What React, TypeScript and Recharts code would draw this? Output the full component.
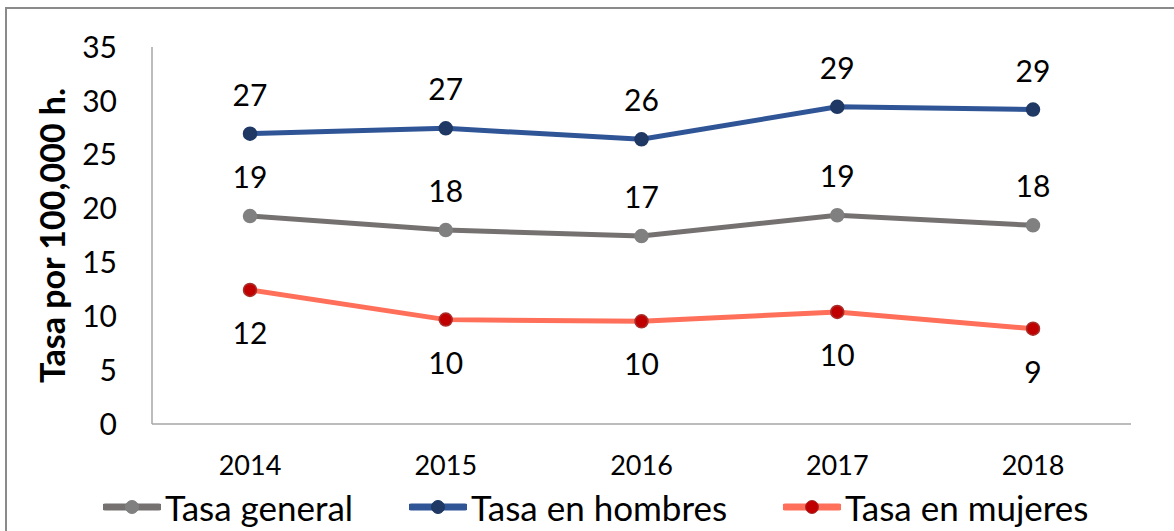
import React from 'react';
import { LineChart, Line, XAxis, YAxis, Legend, LabelList } from 'recharts';

const years = ['2014', '2015', '2016', '2017', '2018'];
const tasaGeneral = [19.31, 18.01, 17.45, 19.38, 18.45];
const tasaHombres = [26.95, 27.45, 26.43, 29.45, 29.19];
const tasaMujeres = [12.45, 9.69, 9.53, 10.4, 8.85];
const yTicks = [0, 5, 10, 15, 20, 25, 30, 35];

const FONT = 'Lato, "Open Sans", sans-serif';

const series = [
  { key: 'general', name: 'Tasa general', line: '#767171', dot: '#808080', dotStroke: '#808080', above: true },
  { key: 'hombres', name: 'Tasa en hombres', line: '#2F5597', dot: '#1F3864', dotStroke: '#1F3864', above: true },
  { key: 'mujeres', name: 'Tasa en mujeres', line: '#FF6F59', dot: '#C00000', dotStroke: '#A8302C', above: false },
];

const data = years.map((year, i) => ({
  year,
  general: tasaGeneral[i],
  hombres: tasaHombres[i],
  mujeres: tasaMujeres[i],
}));

// data labels sit above the line for the first two series, below for mujeres
const makeLabel = (above: boolean) => (props: any) => {
  const { x, y, value } = props;
  return (
    <text
      x={x}
      y={above ? y - 28 : y + 54}
      textAnchor="middle"
      fontSize={30}
      fontFamily={FONT}
      fill="#000"
    >
      {Math.round(value)}
    </text>
  );
};

const renderLegend = () => (
  <div
    style={{
      display: 'flex',
      alignItems: 'center',
      paddingLeft: 103,
      height: 40,
      fontFamily: FONT,
      fontSize: 35,
      color: '#000',
    }}
  >
    {series.map((s) => (
      <div key={s.key} style={{ display: 'flex', alignItems: 'center', marginRight: 56 }}>
        <svg width={58} height={20} style={{ marginRight: 4 }}>
          <line x1={2} y1={10} x2={56} y2={10} stroke={s.line} strokeWidth={7} strokeLinecap="round" />
          <circle cx={29} cy={10} r={6.5} fill={s.dot} stroke={s.dotStroke} strokeWidth={1} />
        </svg>
        <span style={{ lineHeight: '40px' }}>{s.name}</span>
      </div>
    ))}
  </div>
);

const renderYLabel = (props: any) => {
  const vb = props.viewBox || { x: 32, y: 47, width: 120, height: 377 };
  const cx = vb.x + 19;
  const cy = vb.y + vb.height / 2;
  return (
    <text
      x={cx}
      y={cy}
      transform={`rotate(-90, ${cx}, ${cy})`}
      textAnchor="middle"
      dominantBaseline="central"
      fontSize={34}
      fontWeight="bold"
      fontFamily={FONT}
      fill="#000"
    >
      Tasa por 100,000 h.
    </text>
  );
};

export default function App() {
  return (
    <div
      style={{
        position: 'absolute',
        left: 0,
        top: 0,
        width: 1174,
        height: 531,
        overflow: 'hidden',
        background: '#fff',
      }}
    >
      <div
        style={{
          position: 'absolute',
          left: 5,
          top: 7,
          width: 1200,
          height: 600,
          borderTop: '2px solid #8a8a8a',
          borderLeft: '2px solid #8a8a8a',
        }}
      />
      <div style={{ position: 'absolute', left: 0, top: 0 }}>
        <LineChart width={1174} height={531} data={data} margin={{ top: 47, right: 43, left: 32, bottom: 4 }}>
          <XAxis
            dataKey="year"
            height={63}
            padding={{ left: 98, right: 98 }}
            tickLine={false}
            axisLine={{ stroke: '#a6a6a6', strokeWidth: 1.5 }}
            tickMargin={26}
            tick={{ fontSize: 27, fill: '#000', fontFamily: FONT }}
          />
          <YAxis
            width={120}
            domain={[0, 35]}
            ticks={yTicks}
            interval={0}
            tickLine={false}
            axisLine={{ stroke: '#a6a6a6', strokeWidth: 1.5 }}
            tickMargin={29}
            tick={{ fontSize: 30, fill: '#000', fontFamily: FONT }}
            label={{ content: renderYLabel }}
          />
          <Legend
            verticalAlign="bottom"
            content={renderLegend}
            wrapperStyle={{ left: 0, width: 1174, height: 40, bottom: 4 }}
          />
          {series.map((s) => (
            <Line
              key={s.key}
              dataKey={s.key}
              name={s.name}
              type="linear"
              stroke={s.line}
              strokeWidth={5}
              dot={{ r: 6.5, fill: s.dot, stroke: s.dotStroke, strokeWidth: 1.5, fillOpacity: 1 }}
              activeDot={false}
              isAnimationActive={false}
            >
              <LabelList dataKey={s.key} content={makeLabel(s.above)} />
            </Line>
          ))}
        </LineChart>
      </div>
    </div>
  );
}
